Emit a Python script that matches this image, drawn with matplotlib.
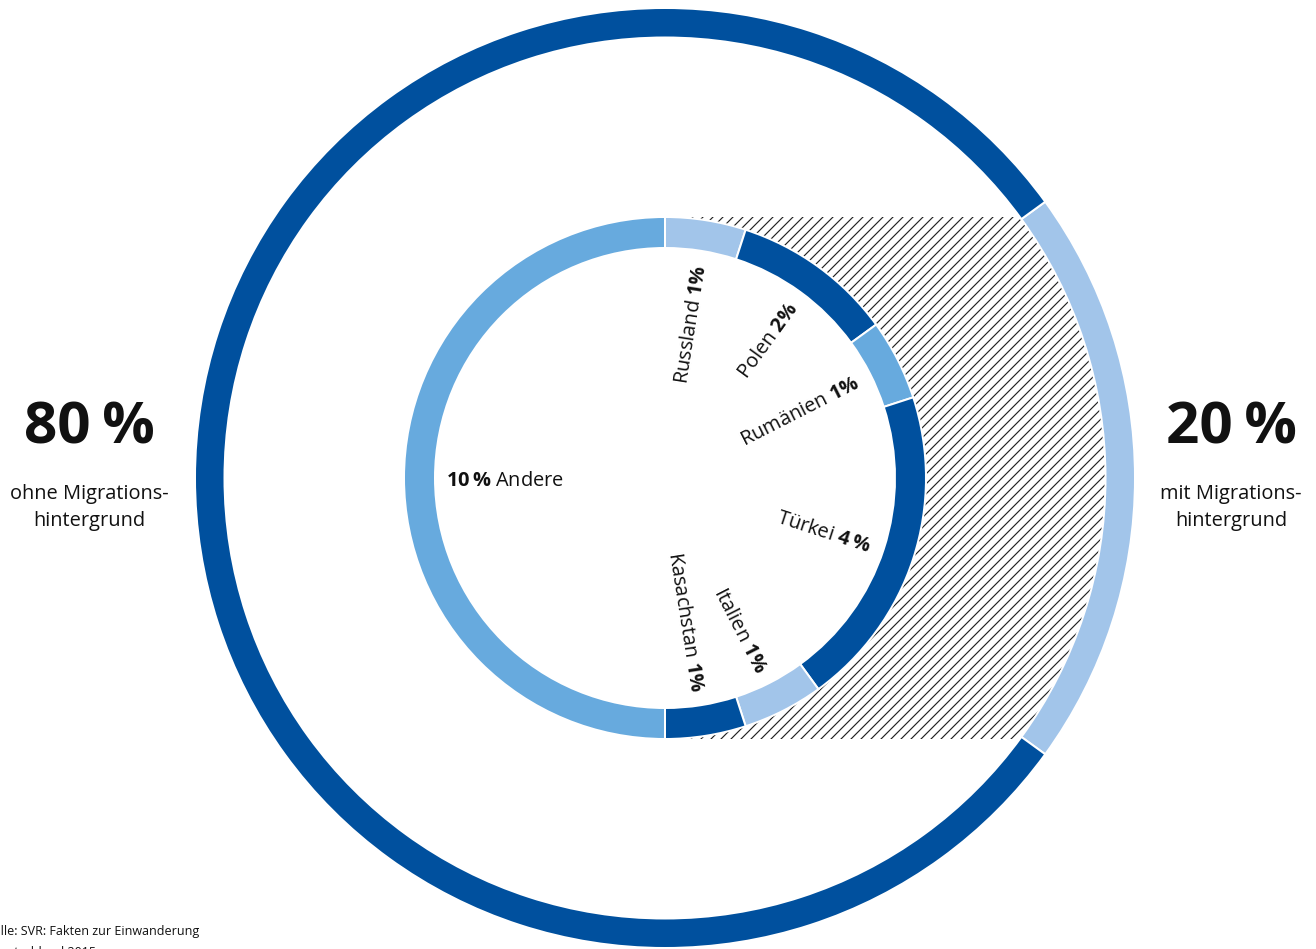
import numpy as np
import matplotlib.pyplot as plt
from matplotlib.patches import Polygon

plt.rcParams['font.family'] = ['Open Sans', 'DejaVu Sans']
plt.rcParams['mathtext.fontset'] = 'custom'
plt.rcParams['mathtext.rm'] = 'Open Sans'
plt.rcParams['mathtext.bf'] = 'Open Sans:bold'
plt.rcParams['hatch.linewidth'] = 0.7
plt.rcParams['hatch.color'] = '#222222'

# Population shares in Germany (%)
groups = ['ohne Migrations-\nhintergrund', 'mit Migrations-\nhintergrund']
group_shares = [80, 20]

# Breakdown of the 20 % by country of origin
origins = ['Russland', 'Polen', 'Rumänien', 'Türkei', 'Italien', 'Kasachstan', 'Andere']
origin_shares = [1, 2, 1, 4, 1, 1, 10]

source = 'Quelle: SVR: Fakten zur Einwanderung\nin Deutschland 2015'

DARK = '#00509e'
MID = '#67aade'
LIGHT = '#a2c5ea'
origin_colors = [LIGHT, DARK, MID, DARK, LIGHT, DARK, MID]
TXT = '#111111'

W, H = 1316, 949
fig = plt.figure(figsize=(W / 120, H / 120), dpi=120)
ax = fig.add_axes([0, 0, 1, 1])

cx, cy = 665, H - 478
r_out, w_out = 470, 29.5
r_in, w_in = 261, 31

# outer ring, migration share centred on the right
half_sweep = 360 * group_shares[1] / sum(group_shares) / 2
ax.pie([group_shares[1], group_shares[0]], colors=[LIGHT, DARK],
       startangle=half_sweep, counterclock=False, radius=r_out, center=(cx, cy),
       wedgeprops=dict(width=w_out, edgecolor='white', linewidth=1.2))

# inner ring, countries of origin
ax.pie(origin_shares, colors=origin_colors, startangle=90, counterclock=False,
       radius=r_in, center=(cx, cy),
       wedgeprops=dict(width=w_in, edgecolor='white', linewidth=1.2))

# hatched band linking the inner ring to the outer segment
r_h = r_out - w_out
phi = np.arcsin(r_in / r_h)
t_in = np.radians(np.linspace(90, -90, 181))
t_out = np.linspace(-phi, phi, 181)
pts = np.vstack([
    np.column_stack([cx + r_in * np.cos(t_in), cy + r_in * np.sin(t_in)]),
    np.column_stack([cx + r_h * np.cos(t_out), cy + r_h * np.sin(t_out)]),
])
ax.add_patch(Polygon(pts, closed=True, facecolor='none', edgecolor='#222222',
                     linewidth=0, hatch='////', zorder=0))

# radial labels inside the inner ring
cum = np.cumsum([0] + origin_shares)
mids = (cum[:-1] + cum[1:]) / 2 / cum[-1] * 360
r_lab = 216
for name, v, mid in zip(origins, origin_shares, mids):
    pct = rf'{v}\,\%' if v >= 4 else rf'{v}\%'
    a = np.radians(90 - mid)
    x, y = cx + r_lab * np.cos(a), cy + r_lab * np.sin(a)
    if mid < 180:
        ax.text(x, y, name + r' $\mathbf{' + pct + '}$', rotation=90 - mid,
                rotation_mode='anchor', ha='right', va='center_baseline',
                fontsize=12, color=TXT)
    else:
        ax.text(x - 3, y, r'$\mathbf{' + pct + '}$ ' + name, rotation=270 - mid,
                rotation_mode='anchor', ha='left', va='center_baseline',
                fontsize=12, color=TXT)

# headline shares either side
for xc, share, label in [(89, group_shares[0], groups[0]),
                         (1231, group_shares[1], groups[1])]:
    ax.text(xc, H - 428, f'{share}\u2009%', ha='center', va='center',
            fontsize=35, fontweight='bold', color=TXT)
    ax.text(xc, H - 484, label, ha='center', va='top', fontsize=12,
            linespacing=1.45, color=TXT)

ax.text(-24, H - 925, source, ha='left', va='top', fontsize=7.5,
        linespacing=1.75, color=TXT)

ax.set_xlim(0, W)
ax.set_ylim(0, H)
ax.set_aspect('equal')
ax.axis('off')

fig.savefig('out.png', dpi=120, facecolor='white')
